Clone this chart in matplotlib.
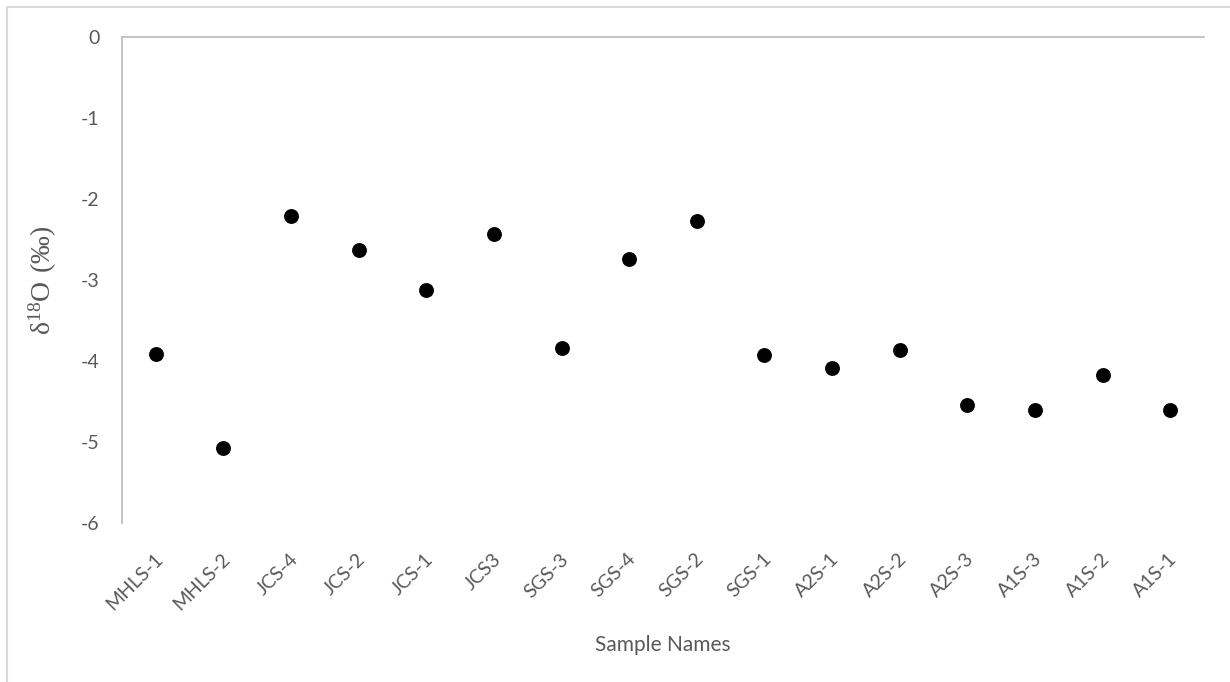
import numpy as np
import matplotlib
matplotlib.use("Agg")
import matplotlib.pyplot as plt
import matplotlib.transforms as mtransforms
from matplotlib.lines import Line2D

# sample names along the category axis
samples = ["MHLS-1", "MHLS-2", "JCS-4", "JCS-2", "JCS-1", "JCS3", "SGS-3", "SGS-4",
           "SGS-2", "SGS-1", "A2S-1", "A2S-2", "A2S-3", "A1S-3", "A1S-2", "A1S-1"]
# delta 18O values (permil)
d18o = [-3.91, -5.07, -2.21, -2.63, -3.12, -2.43, -3.84, -2.74,
        -2.27, -3.93, -4.09, -3.86, -4.54, -4.60, -4.17, -4.60]
yticks = [0, -1, -2, -3, -4, -5, -6]

plt.rcParams['font.family'] = ['Lato', 'DejaVu Sans']
plt.rcParams['mathtext.fontset'] = 'custom'
plt.rcParams['mathtext.rm'] = 'Liberation Serif'

W, H = 1230, 682
fig = plt.figure(figsize=(W / 100, H / 100), dpi=100)
ax = fig.add_axes([122 / W, 1 - 523 / H, (1204 - 122) / W, (523 - 37) / H])

x = np.arange(len(samples))
ax.scatter(x, d18o, s=115, color="black", zorder=3, linewidths=0)

ax.set_xlim(-0.5, len(samples) - 0.5)
ax.set_ylim(-6, 0)
ax.set_yticks(yticks)
ax.set_yticklabels([str(v) for v in yticks])
ax.set_xticks(x)
ax.set_xticklabels(samples, rotation=45, ha="right", va="center", rotation_mode="anchor")

grey = "#bfbfbf"
txt = "#595959"
for s in ["bottom", "right"]:
    ax.spines[s].set_visible(False)
for s in ["left", "top"]:
    ax.spines[s].set_color(grey)
    ax.spines[s].set_linewidth(1.3)
ax.tick_params(axis="both", length=0, colors=txt, labelsize=14)
ax.tick_params(axis="y", pad=16)
ax.tick_params(axis="x", pad=24)
shift = mtransforms.ScaledTranslation(4 / 100, 0, fig.dpi_scale_trans)
for lab in ax.get_xticklabels():
    lab.set_transform(lab.get_transform() + shift)

ax.set_xlabel("Sample Names", color=txt, fontsize=15, labelpad=16)
ax.set_ylabel(r"$\mathrm{\delta^{18}O\ (‰)}$", color=txt, fontsize=20, labelpad=16)

# chart area border
bx, by = 7 / W, 1 - 7 / H
fig.add_artist(Line2D([bx, bx, 1], [0, by, by], transform=fig.transFigure,
                      color="#d9d9d9", linewidth=1.5))

fig.savefig("out.png", dpi=100)
